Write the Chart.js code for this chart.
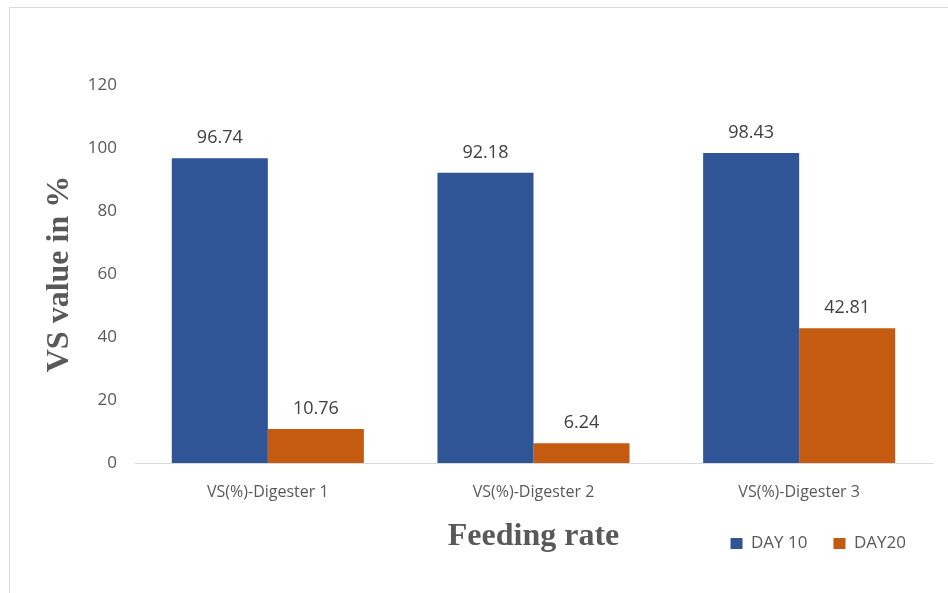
<!DOCTYPE html>
<html>
<head>
<meta charset="utf-8">
<script src="https://cdn.jsdelivr.net/npm/chart.js@4.4.1/dist/chart.umd.min.js"></script>
<style>
    body { margin: 0; background: #ffffff; }
    .frame { position: absolute; left: 9px; top: 7px; right: 0; bottom: 0; border-top: 1px solid #d9d9d9; border-left: 1px solid #d9d9d9; }
    .holder { position: absolute; left: 0; top: 0; width: 948px; height: 593px; }
</style>
</head>
<body>
<div class="frame"></div>
<div class="holder"><canvas id="vs-chart" width="948" height="593"></canvas></div>
<script>
// chart data
const categories = ["VS(%)-Digester 1", "VS(%)-Digester 2", "VS(%)-Digester 3"];
const day10Values = [96.74, 92.18, 98.43];
const day20Values = [10.76, 6.24, 42.81];
const seriesNames = ["DAY 10", "DAY20"];
const yTicks = [0, 20, 40, 60, 80, 100, 120];

const tickFont = "'Open Sans', Lato, sans-serif";
const titleFont = "'Liberation Serif', 'DejaVu Serif', serif";

// value labels above each bar
const barLabels = {
    id: "barLabels",
    afterDatasetsDraw(chart) {
        const ctx = chart.ctx;
        ctx.save();
        ctx.font = "18px " + tickFont;
        ctx.fillStyle = "#404040";
        ctx.textAlign = "center";
        ctx.textBaseline = "alphabetic";
        chart.data.datasets.forEach((ds, i) => {
            chart.getDatasetMeta(i).data.forEach((bar, j) => {
                ctx.fillText(ds.data[j].toFixed(2), bar.x, bar.y - 15);
            });
        });
        ctx.restore();
    }
};

new Chart(document.getElementById("vs-chart"), {
    type: "bar",
    data: {
        labels: categories,
        datasets: [
            { label: seriesNames[0], data: day10Values, backgroundColor: "#2f5597" },
            { label: seriesNames[1], data: day20Values, backgroundColor: "#c55a11" }
        ]
    },
    options: {
        responsive: false,
        animation: false,
        layout: { padding: { top: 85, right: 16, bottom: 31, left: 0 } },
        datasets: { bar: { categoryPercentage: 0.723, barPercentage: 1.0 } },
        plugins: {
            legend: {
                position: "bottom",
                align: "end",
                labels: {
                    boxWidth: 12,
                    boxHeight: 11,
                    padding: 26,
                    color: "#595959",
                    font: { family: tickFont, size: 17 }
                }
            },
            tooltip: { enabled: false }
        },
        scales: {
            x: {
                grid: { display: false, drawTicks: false },
                border: { display: true, color: "#d9d9d9", width: 1 },
                ticks: { color: "#595959", padding: 20, font: { family: tickFont, size: 16 } },
                title: {
                    display: true,
                    text: "Feeding rate",
                    color: "#595959",
                    font: { family: titleFont, size: 32, weight: "bold" },
                    padding: { top: 0, bottom: -47 }
                },
                afterFit(scale) { scale.height = 46; }
            },
            y: {
                min: 0,
                max: 120,
                afterBuildTicks(scale) { scale.ticks = yTicks.map(v => ({ value: v })); },
                grid: { display: false, drawTicks: false },
                border: { display: false },
                ticks: { color: "#595959", padding: 18, font: { family: tickFont, size: 17 } },
                title: {
                    display: true,
                    text: "VS value in %",
                    color: "#595959",
                    font: { family: titleFont, size: 32, weight: "bold" },
                    padding: { top: 41, bottom: 0 }
                },
                afterFit(scale) { scale.width = 135; }
            }
        }
    },
    plugins: [barLabels]
});
</script>
</body>
</html>
